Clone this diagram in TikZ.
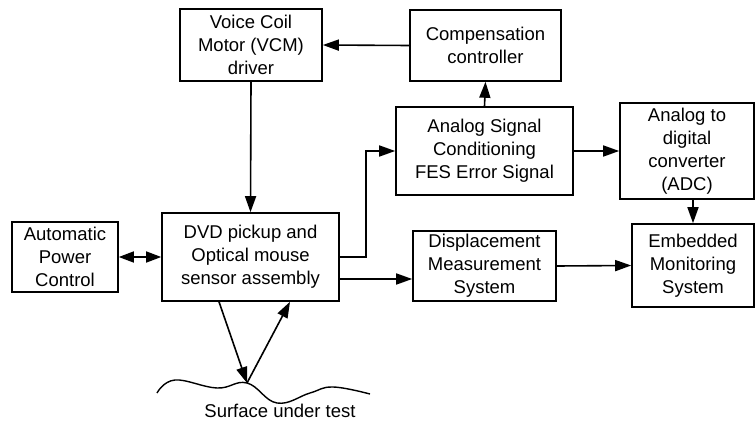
\documentclass[tikz,border=0pt]{standalone}
\usepackage{fontspec}
\setmainfont{Liberation Sans}
\usetikzlibrary{arrows.meta,calc}
\begin{document}
\begin{tikzpicture}[x=1pt,y=-1pt,
  blk/.style={draw,line width=1.6pt,align=center,inner sep=0pt,
    font=\fontsize{18.5}{23}\selectfont},
  tip/.style={Triangle[length=16pt,width=11pt]},
  conn/.style={line width=1.6pt,-{Triangle[length=16pt,width=11pt]}},
  dconn/.style={line width=1.6pt,{Triangle[length=15pt,width=11pt]}-{Triangle[length=15pt,width=11pt]}}]
\useasboundingbox (0,0) rectangle (756,423);
\node[blk,minimum width=142pt,minimum height=72pt] (vcm) at (251,45) {Voice Coil\\Motor (VCM)\\driver};
\node[blk,minimum width=151pt,minimum height=71pt] (comp) at (485.5,45.5) {Compensation\\controller};
\node[blk,minimum width=177pt,minimum height=88pt] (asc) at (484.5,151) {Analog Signal\\Conditioning\\FES Error Signal};
\node[blk,minimum width=134pt,minimum height=96pt] (adc) at (687,151) {Analog to\\digital\\converter\\(ADC)};
\node[blk,minimum width=106pt,minimum height=70pt] (apc) at (65,257) {Automatic\\Power\\Control};
\node[blk,minimum width=177pt,minimum height=88pt] (dvd) at (250.5,257) {DVD pickup and\\Optical mouse\\sensor assembly};
\node[blk,minimum width=143pt,minimum height=70pt] (dms) at (484.5,266) {Displacement\\Measurement\\System};
\node[blk,minimum width=122pt,minimum height=83pt] (ems) at (693,265.5) {Embedded\\Monitoring\\System};
\node[font=\fontsize{18.5}{23}\selectfont] (surf) at (280,411) {Surface under test};

\coordinate (hit) at (247,383);
\coordinate (bend) at (366,257);
\coordinate (dvdlow) at (339,279);

\draw[conn] (comp.west) -- (vcm.east);
\draw[conn] (vcm.south) -- (dvd.north);
\draw[conn] (asc.north) -- (comp.south);
\draw[conn] (asc.east) -- (adc.west);
\draw[conn] (adc.south -| ems.north) -- (ems.north);
\draw[conn] (dms.east) -- (ems.west);
\draw[conn] (dvd.east) -- (bend) |- (asc.west);
\draw[conn] (dvdlow) -- (dvdlow -| dms.west);
\draw[dconn] (apc.east) -- (dvd.west);
\draw[conn] (dvd.south -| 219,0) -- (hit);
\draw[conn] (hit) -- (dvd.south -| 290,0);

\draw[line width=1.4pt] plot[smooth,tension=0.7] coordinates
  {(157,393) (175,380) (217,388) (247,383) (277,403) (310,393) (333,387) (370,394)};
\end{tikzpicture}
\end{document}
